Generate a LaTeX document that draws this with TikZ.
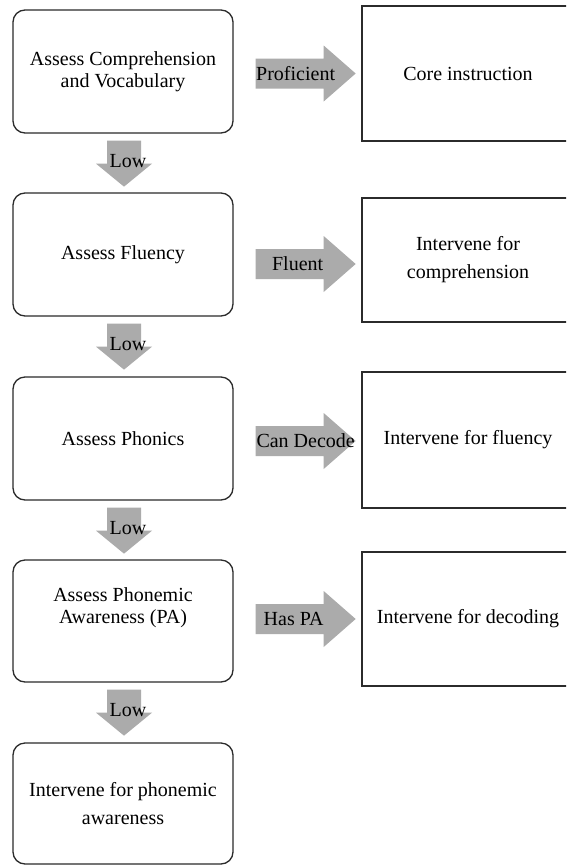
\documentclass[tikz,border=0pt]{standalone}
\usepackage{fontspec}
\setmainfont{Liberation Serif}
\usetikzlibrary{calc}
\definecolor{arrowgray}{HTML}{ABABAB}
\definecolor{edgecol}{HTML}{2B2B2B}
\tikzset{
  txt/.style={font=\fontsize{20}{22}\selectfont, text=black},
  lbox/.style={txt, draw=edgecol, line width=1.3pt, rounded corners=12pt, minimum width=220pt, align=center, inner sep=0pt},
  rbox/.style={txt, draw=edgecol, line width=1.1pt, minimum width=212pt, align=center, inner sep=0pt},
  lab/.style={txt, inner sep=0pt},
  darrow/.pic={\fill[arrowgray] (-17,0)--(-17,23)--(-28,23)--(0,46)--(28,23)--(17,23)--(17,0)--cycle;},
  rarrow/.pic={\fill[arrowgray] (0,-15)--(68,-15)--(68,-28)--(100,0)--(68,28)--(68,15)--(0,15)--cycle;}
}
\begin{document}
\begin{tikzpicture}[x=1pt,y=-1pt]
\fill[white] (0,0) rectangle (566,865);
\clip (0,0) rectangle (566,865);
% left column
\node[lbox, minimum height=123pt] (b1) at (123,71.5) {Assess Comprehension\\and Vocabulary};
\node[lbox, minimum height=123pt] (b2) at (123,254.5) {Assess Fluency};
\node[lbox, minimum height=123pt] (b3) at (123,438.5) {Assess Phonics};
\node[lbox, minimum height=122pt] (b4) at (123,621) {};
\node[lab, align=center] (b4t) at ($(b4.center)+(0,-13)$) {Assess Phonemic\\Awareness (PA)};
\node[lbox, minimum height=121pt] (b5) at (123,803.5) {Intervene for phonemic\\[6pt]awareness};
% right column
\node[rbox, minimum height=135pt] (r1) at (468,73.5) {Core instruction};
\node[rbox, minimum height=124pt] (r2) at (468,260) {Intervene for\\[6pt]comprehension};
\node[rbox, minimum height=136pt] (r3) at (468,440) {Intervene for fluency};
\node[rbox, minimum height=134pt] (r4) at (468,619) {Intervene for decoding};
% down arrows
\foreach \a/\b in {b1/b2,b2/b3,b3/b4,b4/b5}{
  \coordinate (d\a) at ($(\a.south)+(1,7)$);
  \pic at (d\a) {darrow};
  \node[lab] (low\a) at ($(\a.south)+(5,27)$) {Low};
}
% right arrows
\coordinate (a1) at ($(b1.east |- r1.west)+(22,0)$);
\coordinate (a2) at ($(b2.east |- r2.west)+(22,4)$);
\coordinate (a3) at ($(b3.east |- r3.west)+(22,1)$);
\coordinate (a4) at ($(b4.east |- r4.west)+(22,0)$);
\pic at (a1) {rarrow};
\pic at (a2) {rarrow};
\pic at (a3) {rarrow};
\pic at (a4) {rarrow};
\node[lab] (l1) at ($(a1)+(40,0)$) {Proficient};
\node[lab] (l2) at ($(a2)+(42,0)$) {Fluent};
\node[lab] (l3) at ($(a3)+(50,0)$) {Can Decode};
\node[lab] (l4) at ($(a4)+(38,0)$) {Has PA};
\end{tikzpicture}
\end{document}
